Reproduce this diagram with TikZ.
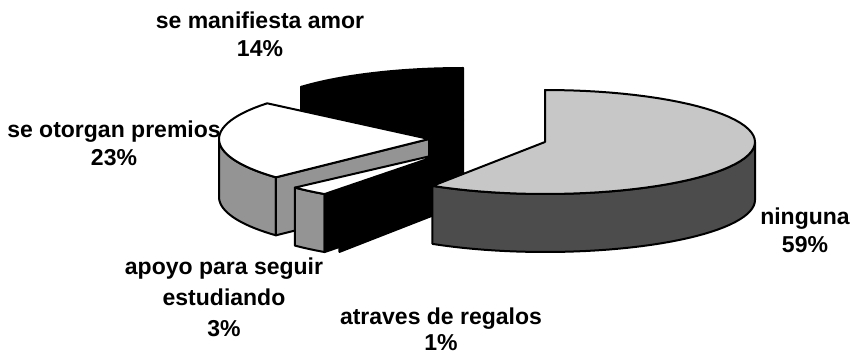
\documentclass[tikz,border=0pt]{standalone}
\usepackage{fontspec}
\setmainfont{Liberation Sans}
\usepackage{tikz}
\tikzstyle{lbl}=[inner sep=0pt, align=center, font=\fontsize{23}{28}\selectfont\bfseries]
\tikzstyle{rim}=[draw=black, line width=2pt, line join=round]
\tikzstyle{blk}=[rim, fill=black]
\tikzstyle{lite}=[rim, fill=white]
\tikzstyle{mid}=[rim, fill=black!42]
\tikzstyle{dark}=[rim, fill=black!70]
\tikzstyle{pale}=[rim, fill=black!22]
\def\pierx{210}
\def\piery{52}
\def\pieh{58}

\begin{document}
\begin{tikzpicture}[x=1pt,y=-1pt]
\useasboundingbox (0,0) rectangle (852,358);

%se manifiesta amor
\draw[blk] (463,120) -- ({463+\pierx*cos(140.4)},{120-\piery*sin(140.4)}) -- ++(0,\pieh) -- (463,{120+\pieh}) -- cycle;
\draw[blk] (463,120) -- plot[domain=90:140.4,samples=25] ({463+\pierx*cos(\x)},{120-\piery*sin(\x)}) -- cycle;

%se otorgan premios
\draw[mid] plot[domain=180:223.2,samples=20] ({429+\pierx*cos(\x)},{139-56*sin(\x)})
  -- plot[domain=223.2:180,samples=20] ({429+\pierx*cos(\x)},{139+\pieh-56*sin(\x)}) -- cycle;
\draw[mid] (429,139) -- ({429+\pierx*cos(223.2)},{139-56*sin(223.2)}) -- ++(0,\pieh) -- (429,{139+\pieh}) -- cycle;
\draw[lite] (429,139) -- plot[domain=140.4:223.2,samples=30] ({429+\pierx*cos(\x)},{139-56*sin(\x)}) -- cycle;

%atraves de regalos
\draw[blk] (452,150) -- ({452+\pierx*cos(237.6)},{150-\piery*sin(237.6)}) -- ++(0,\pieh) -- (452,{150+\pieh}) -- cycle;
\draw[blk] (452,150) -- plot[domain=234:237.6,samples=5] ({452+\pierx*cos(\x)},{150-\piery*sin(\x)}) -- cycle;

%apoyo para seguir estudiando
\draw[mid] plot[domain=223.2:234,samples=8] ({448+\pierx*cos(\x)},{152-\piery*sin(\x)})
  -- plot[domain=234:223.2,samples=8] ({448+\pierx*cos(\x)},{152+\pieh-\piery*sin(\x)}) -- cycle;
\draw[blk] (448,152) -- ({448+\pierx*cos(234)},{152-\piery*sin(234)}) -- ++(0,\pieh) -- (448,{152+\pieh}) -- cycle;
\draw[lite] (448,152) -- plot[domain=223.2:234,samples=8] ({448+\pierx*cos(\x)},{152-\piery*sin(\x)}) -- cycle;

%ninguna
\draw[dark] plot[domain=237.6:360,samples=40] ({545+\pierx*cos(\x)},{142-\piery*sin(\x)})
  -- plot[domain=360:237.6,samples=40] ({545+\pierx*cos(\x)},{142+\pieh-\piery*sin(\x)}) -- cycle;
\draw[pale] (545,142) -- plot[domain=237.6:450,samples=60] ({545+\pierx*cos(\x)},{142-\piery*sin(\x)}) -- cycle;

%labels
\draw (260,34) node[lbl] (amor) {se manifiesta amor\\14\%};
\draw (114,143) node[lbl] (premios) {se otorgan premios\\23\%};
\draw (224,297) node[lbl, font=\fontsize{23}{31}\selectfont\bfseries] (apoyo) {apoyo para seguir\\estudiando\\3\%};
\draw (441,329) node[lbl, font=\fontsize{23}{26}\selectfont\bfseries] (regalos) {atraves de regalos\\1\%};
\draw (805,230) node[lbl] (ninguna) {ninguna\\59\%};
\end{tikzpicture}
\end{document}
